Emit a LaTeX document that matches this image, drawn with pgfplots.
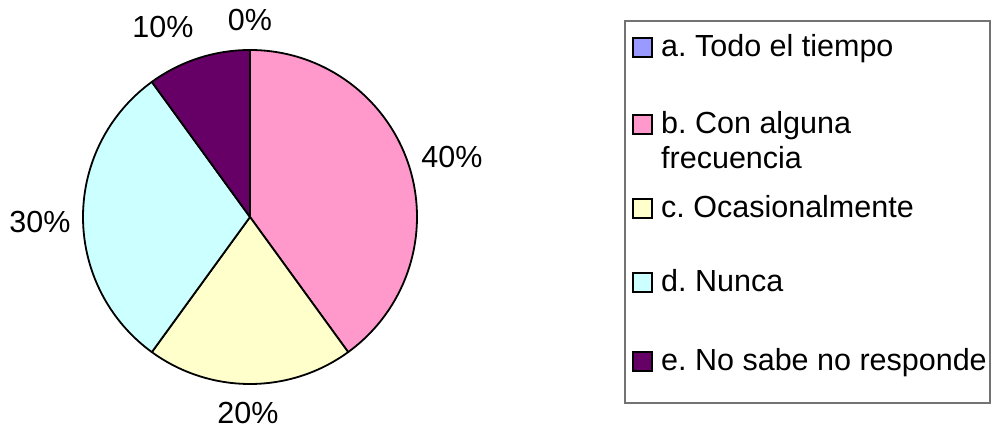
\documentclass[border=0pt]{standalone}
\usepackage{fontspec}
\setmainfont{Liberation Sans}
\usepackage{pgfplots}
\usepackage{pgfplotstable}
\pgfplotsset{compat=1.18}
\frenchspacing

\definecolor{sliceA}{HTML}{9999FF}
\definecolor{sliceB}{HTML}{FF99CC}
\definecolor{sliceC}{HTML}{FFFFCC}
\definecolor{sliceD}{HTML}{CCFFFF}
\definecolor{sliceE}{HTML}{660066}

% value in %, slice colour, label centre (picture px, y from top)
\pgfplotstableread{
key value color  lx  ly
a   0     sliceA 250 20
b   40    sliceB 452 157
c   20    sliceC 248 413
d   30    sliceD 40  222
e   10    sliceE 163 27
}\piedata

\begin{document}
\frenchspacing
\begin{tikzpicture}
\useasboundingbox (0,0) rectangle (998pt,435pt);
\begin{axis}[
  scale only axis, width=998pt, height=435pt,
  xmin=0, xmax=998, ymin=0, ymax=435,
  enlargelimits=false, hide axis, clip=false,
]
\def\cx{250}\def\cy{218}\def\rad{167}
\pgfplotstablegetrowsof{\piedata}
\pgfmathtruncatemacro\nrows{\pgfplotsretval-1}
\gdef\angstart{90}
\pgfplotsforeachungrouped \i in {0,...,\nrows}{%
  \pgfplotstablegetelem{\i}{value}\of\piedata \let\v\pgfplotsretval
  \pgfplotstablegetelem{\i}{color}\of\piedata \let\c\pgfplotsretval
  \pgfplotstablegetelem{\i}{lx}\of\piedata \let\lx\pgfplotsretval
  \pgfplotstablegetelem{\i}{ly}\of\piedata \let\ly\pgfplotsretval
  \pgfmathsetmacro\angend{\angstart-3.6*\v}
  \pgfmathsetmacro\sx{\cx+\rad*cos(\angstart)}
  \pgfmathsetmacro\sy{\cy+\rad*sin(\angstart)}
  \pgfmathsetmacro\lyy{435-\ly}
  \pgfmathtruncatemacro\vi{\v}
  \edef\doit{%
    \noexpand\filldraw[fill=\c, draw=black, line width=1.8pt, line join=round]
      (axis cs:\cx,\cy) -- (axis cs:\sx,\sy)
      arc[start angle=\angstart, end angle=\angend, radius=\rad pt] -- cycle;
    \noexpand\node[font=\noexpand\fontsize{30.5}{34}\noexpand\selectfont, inner sep=0pt]
      at (axis cs:\lx,\lyy) {\vi\noexpand\%};
  }%
  \doit
  \global\let\angstart\angend
}

% legend box
\draw[gray!90!black, line width=1.3pt] (axis cs:625,414) rectangle (axis cs:990,32);
\def\legentry#1#2#3{%
  \pgfmathsetmacro\by{435-#1}
  \pgfmathsetmacro\ty{435-#1+19}
  \edef\doit{%
    \noexpand\filldraw[fill=#2, draw=black, line width=1.4pt] (axis cs:633,\by) rectangle (axis cs:652,\ty);
    \noexpand\node[anchor=base west, inner sep=0pt, align=left,
      font=\noexpand\fontsize{30.5}{35}\noexpand\selectfont\noexpand\frenchspacing] at (axis cs:661,\by) {\noexpand#3};
  }\doit}
\legentry{57}{sliceA}{a. Todo el tiempo}
\legentry{134}{sliceB}{b. Con alguna}
\node[anchor=base west, inner sep=0pt, font=\fontsize{30.5}{35}\selectfont] at (axis cs:661,266) {frecuencia};
\legentry{218}{sliceC}{c. Ocasionalmente}
\legentry{292}{sliceD}{d. Nunca}
\legentry{371}{sliceE}{e. No sabe no responde}
\end{axis}
\end{tikzpicture}
\end{document}
